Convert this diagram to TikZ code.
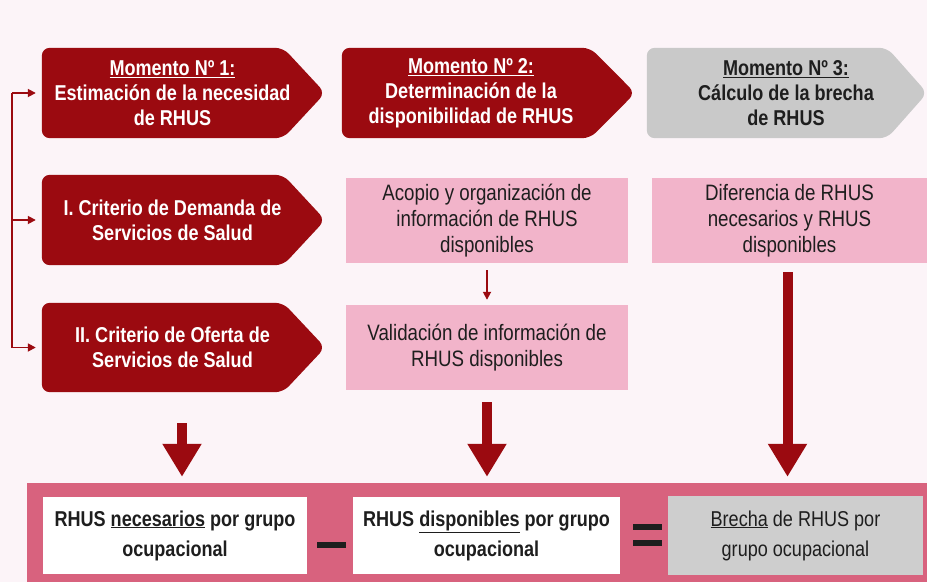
\documentclass[tikz,border=0pt]{standalone}
\usepackage{fontspec}
\setmainfont{Liberation Sans}[FakeStretch=0.84]
\usetikzlibrary{arrows.meta,calc,backgrounds}
\definecolor{dred}{HTML}{9B0A10}
\definecolor{pinkbox}{HTML}{F2B4CA}
\definecolor{bandc}{HTML}{D8627E}
\definecolor{greybox}{HTML}{C9C9C9}
\definecolor{greylow}{HTML}{CECECE}
\definecolor{pagebg}{HTML}{FCF4F8}
\definecolor{txt}{HTML}{1E1E1E}
\newcommand\chevronfill[4]{%
  \fill[#2, rounded corners=8pt] (#1.north west) -- ($(#1.north east)+(#3,0)$)
    -- ($(#1.east)+(#4,0)$) -- ($(#1.south east)+(#3,0)$) -- (#1.south west) -- cycle;}
\tikzset{
  body/.style={minimum height=90pt, inner sep=0pt, align=center,
    font=\fontsize{21.5}{25}\selectfont\bfseries},
  redbody/.style={body, text=white},
  greybody/.style={body, text=txt},
  pinkbx/.style={fill=pinkbox, inner sep=0pt, minimum height=85pt, align=center,
    font=\fontsize{22.3}{26}\selectfont, text=txt},
  whitebx/.style={fill=white, inner sep=0pt, minimum height=77pt, align=center,
    font=\fontsize{21.5}{30}\selectfont\bfseries, text=txt},
  bigarrow/.style={draw=dred, line width=10pt, -{Triangle[length=33pt,width=37pt]}},
  thinarrow/.style={draw=dred, line width=1.7pt, -{Triangle[length=8pt,width=8pt]}},
  sign/.style={fill=txt, inner sep=0pt, minimum width=29pt, minimum height=5.5pt},
}
\begin{document}
\begin{tikzpicture}[x=1pt,y=-1pt]
\useasboundingbox (0,0) rectangle (927,582);
% top row
\node[redbody, minimum width=261pt] (m1) at (172.5,93)
  {\underline{Momento Nº 1:}\\Estimación de la necesidad\\de RHUS};
\node[redbody, minimum width=258pt] (m2) at (471,93)
  {\underline{Momento Nº 2:}\\Determinación de la\\disponibilidad de RHUS};
\node[greybody, minimum width=278pt] (m3) at (786,93)
  {\underline{Momento Nº 3:}\\Cálculo de la brecha\\de RHUS};
% criteria
\node[redbody, minimum width=261pt] (c1) at (172.5,220)
  {I. Criterio de Demanda de\\Servicios de Salud};
\node[redbody, minimum width=261pt, minimum height=89pt] (c2) at (172.5,347.5)
  {II. Criterio de Oferta de\\Servicios de Salud};
% pink boxes
\node[pinkbx, minimum width=282pt] (acopio) at (487,220.5)
  {Acopio y organización de\\información de RHUS\\disponibles};
\node[pinkbx, minimum width=282pt] (valid) at (487,347.5)
  {Validación de información de\\RHUS disponibles};
\node[pinkbx, minimum width=275pt] (dif) at (789.5,220.5)
  {Diferencia de RHUS\\necesarios y RHUS\\disponibles};
% bottom band
\node[fill=bandc, inner sep=0pt, minimum width=900pt, minimum height=99pt] (band) at (477,532.5) {};
\node[whitebx, minimum width=264pt] (nec) at (175,535.5)
  {RHUS \underline{necesarios} por grupo\\ocupacional};
\node[whitebx, minimum width=267pt] (disp) at (486.5,535.5)
  {RHUS \underline{disponibles} por grupo\\ocupacional};
\node[whitebx, fill=greylow, minimum width=255pt, minimum height=79pt,
  font=\fontsize{21.5}{30}\selectfont] (brecha) at (795.5,535.5)
  {\underline{Brecha} de RHUS por\\grupo ocupacional};
\node[sign] (minus) at (331,545) {};
\node[sign] (eqa) at (647,527) {};
\node[sign] (eqb) at (647,543) {};
% connectors
\coordinate (bk) at (12,93);
\draw[thinarrow, shorten >=6pt] (bk) -- (m1.west);
\draw[thinarrow, shorten >=6pt] (bk) |- (c1.west);
\draw[thinarrow, shorten >=6pt] (bk) |- (c2.west);
\draw[thinarrow, shorten <=7pt, shorten >=5pt] (acopio.south) -- (valid.north);
\draw[bigarrow, shorten <=31pt, shorten >=6pt] ([xshift=9.5pt]c2.south) -- ([xshift=9.5pt]c2.south |- band.north);
\draw[bigarrow, shorten <=12pt, shorten >=6pt] (valid.south) -- (valid.south |- band.north);
\draw[bigarrow, shorten <=9pt, shorten >=6pt] ([xshift=-2pt]dif.south) -- ([xshift=-2pt]dif.south |- band.north);
% shapes behind
\begin{scope}[on background layer]
  \fill[pagebg] (0,0) rectangle (927,582);
  \chevronfill{m1}{dred}{-20}{22}
  \chevronfill{m2}{dred}{-10}{35}
  \chevronfill{m3}{greybox}{-38}{2}
  \chevronfill{c1}{dred}{-20}{22}
  \chevronfill{c2}{dred}{-20}{22}
\end{scope}
\end{tikzpicture}
\end{document}
